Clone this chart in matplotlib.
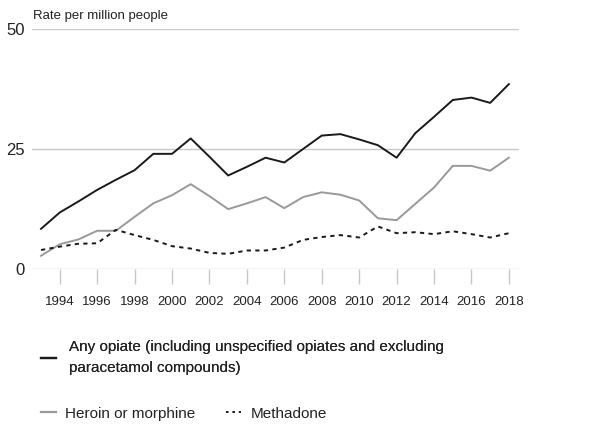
import matplotlib.pyplot as plt
from matplotlib.lines import Line2D

plt.rcParams['font.family'] = ['Liberation Sans', 'DejaVu Sans']

years = list(range(1993, 2019))
any_opiate = [8.4, 11.8, 14.1, 16.5, 18.6, 20.6, 24.0, 24.0, 27.2, 23.4, 19.5, 21.3, 23.2,
              22.2, 25.0, 27.8, 28.1, 27.0, 25.8, 23.2, 28.3, 31.7, 35.2, 35.7, 34.6, 38.5]
heroin = [2.8, 5.2, 6.2, 8.0, 8.0, 10.9, 13.7, 15.4, 17.7, 15.2, 12.5, 13.7, 15.0,
          12.7, 15.0, 16.0, 15.5, 14.3, 10.6, 10.2, 13.6, 17.0, 21.5, 21.5, 20.5, 23.2]
methadone = [4.0, 4.7, 5.3, 5.4, 8.2, 7.1, 6.1, 4.8, 4.3, 3.4, 3.2, 3.9, 3.9,
             4.5, 6.1, 6.7, 7.1, 6.6, 8.9, 7.5, 7.7, 7.3, 7.9, 7.3, 6.6, 7.5]
xticks = list(range(1994, 2019, 2))
yticks = [0, 25, 50]

fig = plt.figure(figsize=(6.1, 4.24), dpi=100)
ax = fig.add_axes([0.0525, 0.365, 0.798, 0.567])

ax.plot(years, any_opiate, color='#1a1a1a', lw=1.4)
ax.plot(years, heroin, color='#999999', lw=1.4)
ax.plot(years, methadone, color='#1a1a1a', lw=1.4, linestyle=(0, (2.2, 2.2)))

ax.set_xlim(1992.52, 2018.53)
ax.set_ylim(0, 50)
ax.set_yticks(yticks)
ax.set_xticks(xticks)
ax.grid(axis='y', color='#c8c8c8', lw=1)
ax.set_axisbelow(True)
for s in ax.spines.values():
    s.set_visible(False)
ax.tick_params(axis='y', length=0, labelsize=12, pad=5, labelcolor='#222222')
ax.tick_params(axis='x', length=11, color='#c8c8c8', width=1, labelsize=9.5,
               pad=8, labelcolor='#222222')

fig.text(0.054, 0.948, 'Rate per million people', fontsize=9.5, color='#222222',
         va='bottom')

h1 = [Line2D([], [], color='#1a1a1a', lw=1.6)]
leg1 = fig.legend(h1, ['Any opiate (including unspecified opiates and excluding\nparacetamol compounds)'],
                  loc='upper left', bbox_to_anchor=(0.067, 0.198), frameon=False,
                  fontsize=11, handlelength=1.0, handletextpad=0.85, borderaxespad=0,
                  borderpad=0, labelcolor='#222222')
leg1.get_texts()[0].set_linespacing(1.6)
fig.add_artist(leg1)
h2 = [Line2D([], [], color='#999999', lw=1.6),
      Line2D([], [], color='#1a1a1a', lw=1.4, linestyle=(0, (1.3, 2)))]
fig.legend(h2, ['Heroin or morphine', 'Methadone'], loc='upper left',
           bbox_to_anchor=(0.067, 0.041), frameon=False, fontsize=11, ncol=2,
           handlelength=1.0, handletextpad=0.6, columnspacing=2.0, borderaxespad=0,
           borderpad=0, labelcolor='#222222')

fig.savefig('out.png', dpi=100)
